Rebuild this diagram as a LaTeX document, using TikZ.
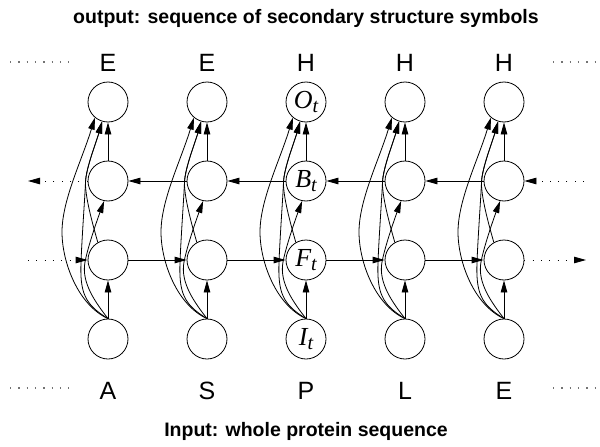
\documentclass[tikz,border=0pt]{standalone}
\usepackage{fontspec}
\setmainfont{Liberation Sans}
\newfontfamily\tms{Liberation Serif}
\usetikzlibrary{arrows.meta}
\newcommand\unitlbl[1]{{\tms\itshape\fontsize{26}{26}\selectfont #1\raisebox{-4.5pt}{\fontsize{20}{20}\selectfont t}}}
\tikzset{
  unit/.style={circle, draw, line width=0.8pt, minimum size=40pt, inner sep=0pt},
  conn/.style={line width=0.8pt, -{Triangle[length=12pt,width=6.5pt]}},
  dotconn/.style={conn, dash pattern=on 1pt off 7.3pt},
  dotrow/.style={line width=1.3pt, black!55, dash pattern=on 1.3pt off 7pt},
  seqlbl/.style={font=\fontsize{25}{25}\selectfont, inner sep=0pt, anchor=base},
  titlelbl/.style={inner sep=0pt, anchor=base, font=\fontsize{19.5}{20}\selectfont\bfseries}
}
\begin{document}
\begin{tikzpicture}[x=1pt,y=-1pt]
\useasboundingbox (0,0) rectangle (600,447);
% titles
\node[titlelbl] (title) at (306,23.5) {output: sequence of secondary structure symbols};
\node[titlelbl] (subtitle) at (306,436) {Input: whole protein sequence};
% units
\foreach \i/\x/\tp/\bt in {1/108/E/A,2/207/E/S,3/306/H/P,4/405/H/L,5/504/H/E}{
  \ifnum\i=3
    \node[unit] (O\i) at (\x,102) {\unitlbl{O}};
    \node[unit] (B\i) at (\x,181) {\unitlbl{B}};
    \node[unit] (F\i) at (\x,260) {\unitlbl{F}};
    \node[unit] (I\i) at (\x,339) {\unitlbl{I}};
  \else
    \node[unit] (O\i) at (\x,102) {};
    \node[unit] (B\i) at (\x,181) {};
    \node[unit] (F\i) at (\x,260) {};
    \node[unit] (I\i) at (\x,339) {};
  \fi
  \node[seqlbl] (top\i) at (\x,71) {\tp};
  \node[seqlbl] (bot\i) at (\x,399) {\bt};
  % vertical connections
  \draw[conn] (I\i.north) -- (F\i.south);
  \draw[conn] (B\i.north) -- (O\i.south);
  % I -> O (far left)
  \draw[conn] (I\i.north) .. controls (\x-30,305) and (\x-46,262) .. (\x-46,232)
     .. controls (\x-46,200) and (\x-26,160) .. (O\i.230);
  % I -> B
  \draw[conn] (I\i.north) .. controls (\x-12,303) and (\x-27,283) .. (\x-23,262)
     .. controls (\x-19.8,245) and (\x-9,215) .. (B\i.259);
  % I -> O (hugging the left of F and B)
  \draw[conn] (I\i.north) .. controls (\x-24,304) and (\x-28,292) .. (\x-27,262)
     .. controls (\x-26,236) and (\x-23,196) .. (\x-22.5,182)
     .. controls (\x-22,168) and (\x-11,140) .. (O\i.253);
  % F -> O
  \draw[conn] (F\i.120) .. controls (\x-16,222) and (\x-23,196) .. (\x-22.5,182)
     .. controls (\x-22,168) and (\x-11,140) .. (O\i.253);
}
% horizontal connections
\foreach \i [evaluate=\i as \j using int(\i+1)] in {1,2,3,4}{
  \draw[conn] (F\i.east) -- (F\j.west);
  \draw[conn] (B\j.west) -- (B\i.east);
}
% dotted continuations
\coordinate (bl) at (28,181);
\coordinate (fl) at (28,260);
\coordinate (br) at (584,181);
\coordinate (fr) at (586,260);
\draw[dotconn] (B1.west) -- (bl);
\draw[dotconn] (fl) -- (F1.west);
\draw[dotconn] (br) -- (B5.east);
\draw[dotconn] (F5.east) -- (fr);
% sequence dots
\coordinate (dtl1) at (10,62); \coordinate (dtl2) at (70,62);
\coordinate (dtr1) at (553,62); \coordinate (dtr2) at (595,62);
\coordinate (dbl1) at (10,388); \coordinate (dbl2) at (70,388);
\coordinate (dbr1) at (553,388); \coordinate (dbr2) at (595,388);
\draw[dotrow] (dtl1) -- (dtl2);
\draw[dotrow] (dtr1) -- (dtr2);
\draw[dotrow] (dbl1) -- (dbl2);
\draw[dotrow] (dbr1) -- (dbr2);
\end{tikzpicture}
\end{document}
